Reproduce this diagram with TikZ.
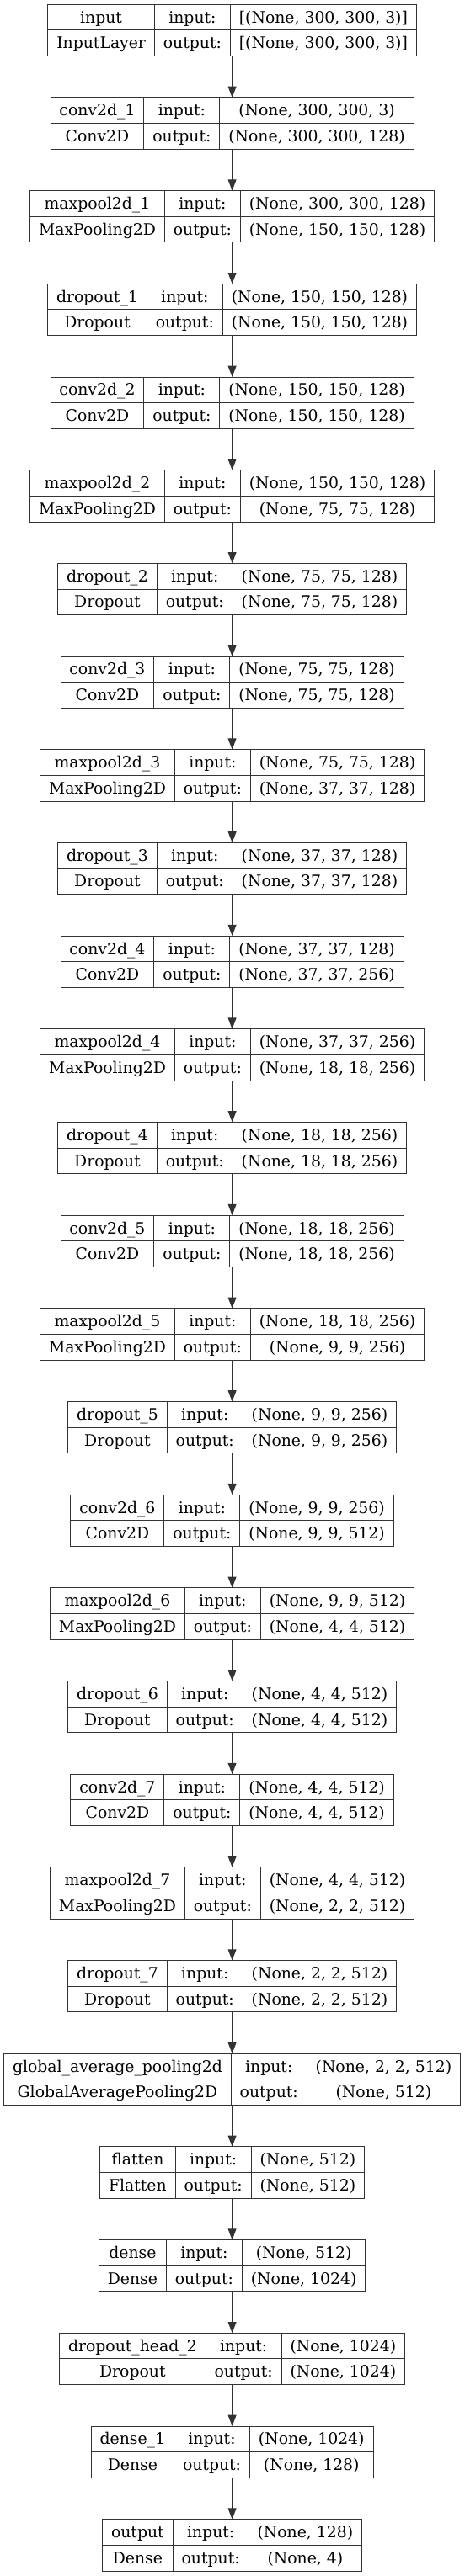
\documentclass[tikz,border=0pt]{standalone}
\usepackage{fontspec}
\newfontfamily\lf{DejaVu Serif}
\usetikzlibrary{arrows.meta}
\newlength\mytmpa \newlength\mytmpb
\newlength\mycolA \newlength\mycolB \newlength\mycolC
\newcommand\mxw[4]{%
  \pgfinterruptpicture
  \settowidth{\mytmpa}{#2#3}\settowidth{\mytmpb}{#2#4}%
  \ifdim\mytmpb>\mytmpa\relax \mytmpa=\mytmpb\fi
  \global#1=\mytmpa
  \endpgfinterruptpicture}
\newcommand\tenpt{\fontsize{10pt}{12pt}\selectfont\lf}
\newcommand\lbl{\fontsize{\fsz pt}{\fsz pt}\selectfont\lf}
\def\rowh{22.99}
\tikzset{
  lbox/.style={draw=black!80, line width=0.75pt, rectangle, inner sep=0pt, outer sep=0pt, minimum height=45.98pt},
  lline/.style={draw=black!80, line width=0.75pt},
  ltxt/.style={anchor=base, inner sep=0pt, outer sep=0pt, font=\lbl, text=black},
  larr/.style={draw=black!80, line width=0.85pt, -{Triangle[length=10pt,width=7.4pt]}}
}
\newcommand\layer[5]{%
  \mxw{\mycolA}{\lbl}{#2}{#3}\global\advance\mycolA by \pd pt\relax
  \mxw{\mycolB}{\lbl}{input:}{output:}\global\advance\mycolB by \pd pt\relax
  \mxw{\mycolC}{\lbl}{#4}{#5}\global\advance\mycolC by \pd pt\relax
  \pgfmathsetmacro\Wt{\mycolA+\mycolB+\mycolC}%
  \pgfmathsetmacro\yt{-(5.3+110.68*#1)*0.75}%
  \pgfmathsetmacro\xl{206.7-\Wt/2}%
  \pgfmathsetmacro\xa{\xl+\mycolA}%
  \pgfmathsetmacro\xb{\xa+\mycolB}%
  \pgfmathsetmacro\ym{\yt-\rowh}%
  \pgfmathsetmacro\yb{\yt-2*\rowh}%
  \pgfmathsetmacro\bA{\yt-0.5*\rowh-0.35*\fsz}%
  \pgfmathsetmacro\bB{\bA-\rowh}%
  \pgfmathsetmacro\cA{\xl+0.5*\mycolA}%
  \pgfmathsetmacro\cB{\xa+0.5*\mycolB}%
  \pgfmathsetmacro\cC{\xb+0.5*\mycolC}%
  \node[lbox, minimum width=\Wt pt, anchor=north west] (L#1) at (\xl pt,\yt pt) {};
  \draw[lline] (\xl pt,\ym pt) -- ++(\Wt pt,0pt);
  \draw[lline] (\xa pt,\yt pt) -- (\xa pt,\yb pt);
  \draw[lline] (\xb pt,\yt pt) -- (\xb pt,\yb pt);
  \node[ltxt] (L#1n) at (\cA pt,\bA pt) {#2};
  \node[ltxt] (L#1c) at (\cA pt,\bB pt) {#3};
  \node[ltxt] (L#1i) at (\cB pt,\bA pt) {input:};
  \node[ltxt] (L#1o) at (\cB pt,\bB pt) {output:};
  \node[ltxt] (L#1s) at (\cC pt,\bA pt) {#4};
  \node[ltxt] (L#1t) at (\cC pt,\bB pt) {#5};
}
\begin{document}
\begin{tikzpicture}
\fill[white] (0pt,0pt) rectangle (414pt,-2295.75pt);
\useasboundingbox (0pt,0pt) rectangle (414pt,-2295.75pt);
% calibration from two measured boxes
\mxw{\mycolA}{\tenpt}{global\_average\_pooling2d}{GlobalAveragePooling2D}\pgfmathsetmacro\ga{\mycolA}
\mxw{\mycolA}{\tenpt}{(None, 2, 2, 512)}{(None, 512)}\pgfmathsetmacro\gc{\mycolA}
\mxw{\mycolA}{\tenpt}{input}{InputLayer}\pgfmathsetmacro\ia{\mycolA}
\mxw{\mycolA}{\tenpt}{[(None, 300, 300, 3)]}{[(None, 300, 300, 3)]}\pgfmathsetmacro\ic{\mycolA}
\mxw{\mycolA}{\tenpt}{input:}{output:}\pgfmathsetmacro\ob{\mycolA}
\pgfmathsetmacro\myF{(406.5-328.2)/((\ga+\gc)-(\ia+\ic))}
\pgfmathsetmacro\fsz{10*\myF}
\pgfmathsetmacro\pd{(406.5-\myF*(\ga+\gc+\ob))/3}
\layer{0}{input}{InputLayer}{[(None, 300, 300, 3)]}{[(None, 300, 300, 3)]}
\layer{1}{conv2d\_1}{Conv2D}{(None, 300, 300, 3)}{(None, 300, 300, 128)}
\layer{2}{maxpool2d\_1}{MaxPooling2D}{(None, 300, 300, 128)}{(None, 150, 150, 128)}
\layer{3}{dropout\_1}{Dropout}{(None, 150, 150, 128)}{(None, 150, 150, 128)}
\layer{4}{conv2d\_2}{Conv2D}{(None, 150, 150, 128)}{(None, 150, 150, 128)}
\layer{5}{maxpool2d\_2}{MaxPooling2D}{(None, 150, 150, 128)}{(None, 75, 75, 128)}
\layer{6}{dropout\_2}{Dropout}{(None, 75, 75, 128)}{(None, 75, 75, 128)}
\layer{7}{conv2d\_3}{Conv2D}{(None, 75, 75, 128)}{(None, 75, 75, 128)}
\layer{8}{maxpool2d\_3}{MaxPooling2D}{(None, 75, 75, 128)}{(None, 37, 37, 128)}
\layer{9}{dropout\_3}{Dropout}{(None, 37, 37, 128)}{(None, 37, 37, 128)}
\layer{10}{conv2d\_4}{Conv2D}{(None, 37, 37, 128)}{(None, 37, 37, 256)}
\layer{11}{maxpool2d\_4}{MaxPooling2D}{(None, 37, 37, 256)}{(None, 18, 18, 256)}
\layer{12}{dropout\_4}{Dropout}{(None, 18, 18, 256)}{(None, 18, 18, 256)}
\layer{13}{conv2d\_5}{Conv2D}{(None, 18, 18, 256)}{(None, 18, 18, 256)}
\layer{14}{maxpool2d\_5}{MaxPooling2D}{(None, 18, 18, 256)}{(None, 9, 9, 256)}
\layer{15}{dropout\_5}{Dropout}{(None, 9, 9, 256)}{(None, 9, 9, 256)}
\layer{16}{conv2d\_6}{Conv2D}{(None, 9, 9, 256)}{(None, 9, 9, 512)}
\layer{17}{maxpool2d\_6}{MaxPooling2D}{(None, 9, 9, 512)}{(None, 4, 4, 512)}
\layer{18}{dropout\_6}{Dropout}{(None, 4, 4, 512)}{(None, 4, 4, 512)}
\layer{19}{conv2d\_7}{Conv2D}{(None, 4, 4, 512)}{(None, 4, 4, 512)}
\layer{20}{maxpool2d\_7}{MaxPooling2D}{(None, 4, 4, 512)}{(None, 2, 2, 512)}
\layer{21}{dropout\_7}{Dropout}{(None, 2, 2, 512)}{(None, 2, 2, 512)}
\layer{22}{global\_average\_pooling2d}{GlobalAveragePooling2D}{(None, 2, 2, 512)}{(None, 512)}
\layer{23}{flatten}{Flatten}{(None, 512)}{(None, 512)}
\layer{24}{dense}{Dense}{(None, 512)}{(None, 1024)}
\layer{25}{dropout\_head\_2}{Dropout}{(None, 1024)}{(None, 1024)}
\layer{26}{dense\_1}{Dense}{(None, 1024)}{(None, 128)}
\layer{27}{output}{Dense}{(None, 128)}{(None, 4)}
\foreach \i [evaluate=\i as \j using int(\i+1)] in {0,...,26}
  \draw[larr] (L\i.south) -- (L\j.north);
\end{tikzpicture}
\end{document}
